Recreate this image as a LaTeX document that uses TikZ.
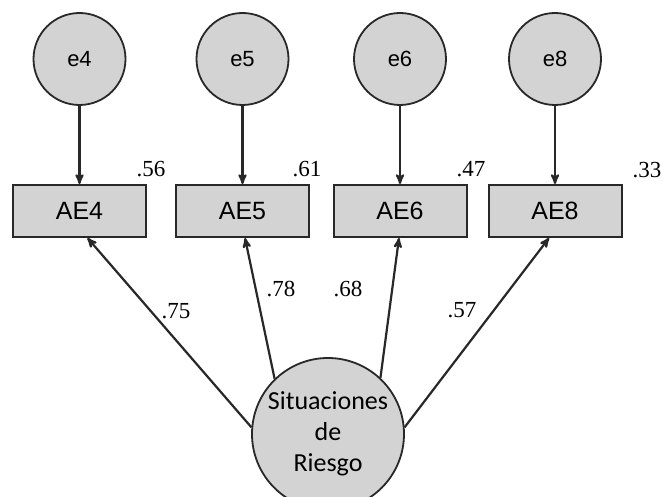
\documentclass[tikz,border=0pt]{standalone}
\usepackage{fontspec}
\setmainfont{Liberation Serif}
\newfontfamily\arialfont{Liberation Sans}
\newfontfamily\calibrifont{Carlito}
\usetikzlibrary{arrows}
\definecolor{semgray}{RGB}{211,211,211}
\definecolor{semline}{RGB}{40,40,40}

\begin{document}
\begin{tikzpicture}[x=1pt,y=-1pt,>=stealth',line width=2.2pt,draw=semline,node distance=152pt]
        \tikzset{
          err/.style={circle,draw=semline,fill=semgray,line width=1.8pt,minimum size=92pt,inner sep=0pt,font=\arialfont\fontsize{22}{26}\selectfont},
          obs/.style={rectangle,draw=semline,fill=semgray,line width=2pt,minimum width=133pt,minimum height=52pt,inner sep=0pt,font=\arialfont\fontsize{25}{30}\selectfont},
          lat/.style={circle,draw=semline,fill=semgray,line width=1.8pt,minimum size=152pt,inner sep=0pt,align=center,font=\calibrifont\fontsize{26}{31}\selectfont},
          coef/.style={inner sep=0pt,font=\fontsize{23}{27}\selectfont}
        }
        \useasboundingbox (0,0) rectangle (662,497);

        \node[obs] (AE4) at (79.5,211) {AE4};
        \node[obs] (AE5) at (242.5,211) {AE5};
        \node[obs] (AE6) at (400,211) {AE6};
        \node[obs] (AE8) at (555,211) {AE8};
        \node[err] (e4) [above of = AE4] {e4};
        \node[err] (e5) [above of = AE5] {e5};
        \node[err] (e6) [above of = AE6] {e6};
        \node[err] (e8) [above of = AE8] {e8};
        \node[lat] (sr) at (328,434) {Situaciones\\de\\Riesgo};

        \node[coef] (r4) at (151,169) {.56};
        \node[coef] (r5) at (307,169) {.61};
        \node[coef] (r6) at (471,169) {.47};
        \node[coef] (r8) at (647,170) {.33};

        \path[->,line width=2.2pt] (e4) edge (AE4);
        \path[->,line width=2.2pt] (e5) edge (e5 |- AE5.north);
        \path[->,line width=2.2pt] (e6) edge (AE6);
        \path[->,line width=2.2pt] (e8) edge (e8 |- AE8.north);

        \path[->,line width=2.2pt] (sr.175) edge ([xshift=8pt]AE4.south);
        \path[->,line width=2.2pt] (sr.134) edge ([xshift=2.5pt]AE5.south);
        \path[->,line width=2.2pt] (sr.47) edge ([xshift=-1pt]AE6.south);
        \path[->,line width=2.2pt] (sr.5) edge ([xshift=-6pt]AE8.south);

        \node[coef] (l4) at (176,311) {.75};
        \node[coef] (l5) at (281,289) {.78};
        \node[coef] (l6) at (348,289) {.68};
        \node[coef] (l8) at (462,310) {.57};
      \end{tikzpicture}
\end{document}
